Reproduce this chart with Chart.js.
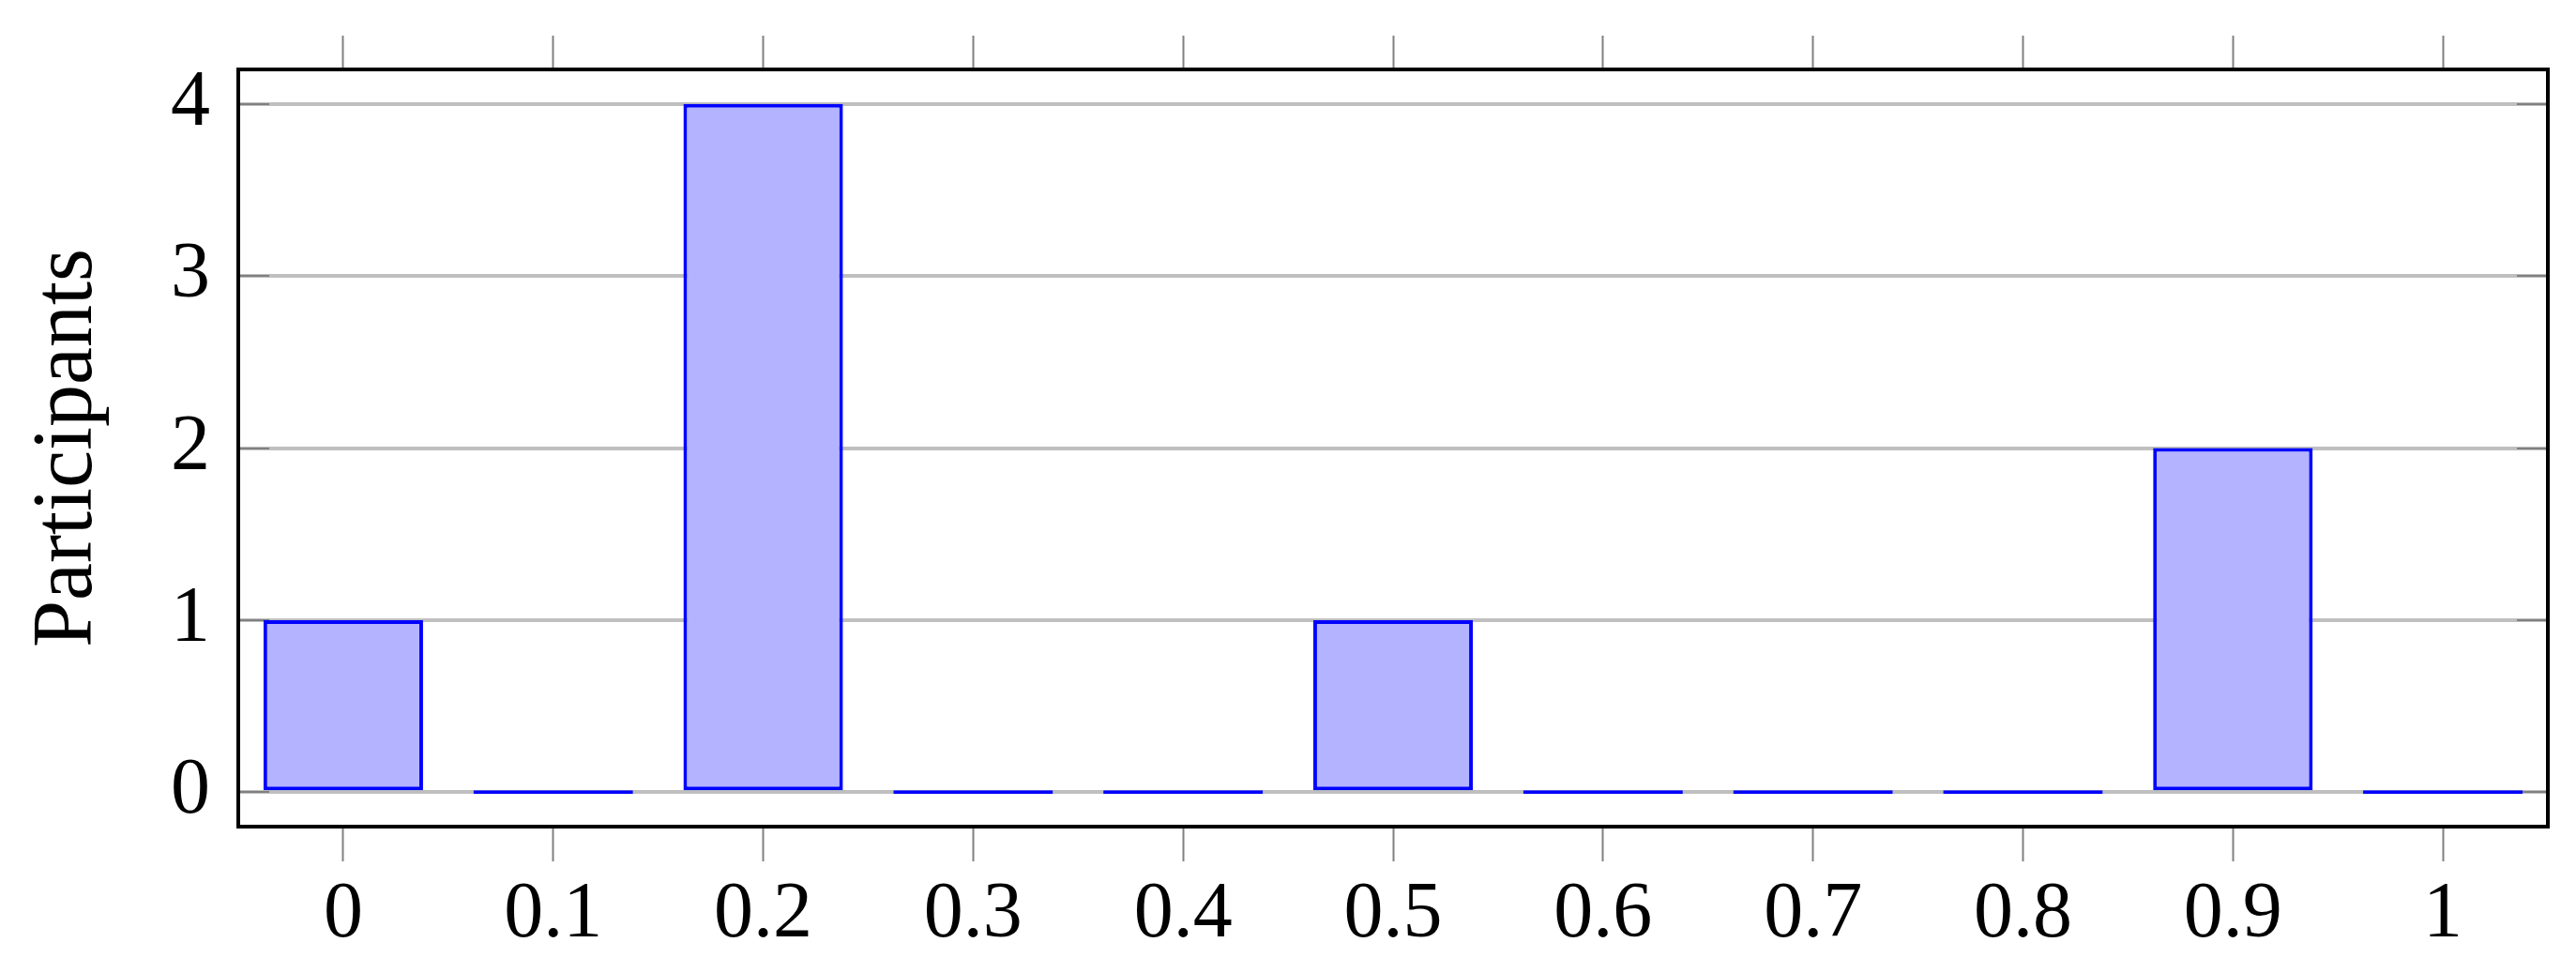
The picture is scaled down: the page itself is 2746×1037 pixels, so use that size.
<html>
<head>
<style>
    body { margin: 0; background: #ffffff; }
</style>
</head>
<body>
<div style="display: block;width: 2746px;height: 1037px;">
    <canvas id="participants_chart" width="2746" height="1037"></canvas>
</div>

<script src="https://cdn.jsdelivr.net/npm/chart.js"></script>

<script>
    var labels = ['0', '0.1', '0.2', '0.3', '0.4', '0.5', '0.6', '0.7', '0.8', '0.9', '1'];
    var participants = [1, 0, 4, 0, 0, 1, 0, 0, 0, 2, 0];
    var y_ticks = [0, 1, 2, 3, 4];

    var font_family = '"Liberation Serif", "DejaVu Serif", serif';

    // frame around the plot + the small inner ticks on the y axis
    var framePlugin = {
        id: 'frame',
        beforeDatasetsDraw(chart) {
            let ctx = chart.ctx;
            let area = chart.chartArea;
            let y = chart.scales.y;
            ctx.save();
            ctx.strokeStyle = '#808080';
            ctx.lineWidth = 2;
            y.ticks.forEach(t => {
                let py = Math.round(y.getPixelForValue(t.value));
                ctx.beginPath();
                ctx.moveTo(area.left, py);
                ctx.lineTo(area.left + 33, py);
                ctx.moveTo(area.right - 33, py);
                ctx.lineTo(area.right, py);
                ctx.stroke();
            });
            ctx.restore();
        },
        afterDraw(chart) {
            let ctx = chart.ctx;
            let area = chart.chartArea;
            ctx.save();
            ctx.strokeStyle = '#000000';
            ctx.lineWidth = 4;
            ctx.strokeRect(area.left, area.top, area.right - area.left, area.bottom - area.top);
            ctx.restore();
        }
    };

    var chart = new Chart(document.getElementById('participants_chart'), {
        type: 'bar',
        data: {
            labels: labels,
            datasets: [
                {
                    label: 'Participants',
                    data: participants,
                    backgroundColor: '#b3b3ff',
                    borderColor: '#0000ff',
                    borderWidth: 4,
                    borderSkipped: false,
                    minBarLength: 4,
                    categoryPercentage: 1.0,
                    barPercentage: 0.76,
                },
            ]
        },
        options: {
            responsive: false,
            animation: false,
            devicePixelRatio: 1,
            layout: {
                autoPadding: false,
                padding: { left: 0, right: 30, top: 0, bottom: 0 }
            },
            plugins: {
                legend: { display: false },
                tooltip: { enabled: false },
            },
            scales: {
                x: {
                    type: 'category',
                    position: 'bottom',
                    offset: true,
                    grid: {
                        offset: false,
                        drawOnChartArea: false,
                        drawTicks: true,
                        tickLength: 37,
                        tickWidth: 2,
                        tickColor: '#808080',
                    },
                    border: { display: false },
                    ticks: {
                        color: '#000000',
                        font: { family: font_family, size: 84 },
                        padding: 8,
                        maxRotation: 0,
                        autoSkip: false,
                    },
                    afterFit: (scale) => {
                        scale.height = 156;
                        scale.paddingLeft = 0;
                        scale.paddingRight = 0;
                    },
                },
                x2: {
                    type: 'category',
                    position: 'top',
                    display: true,
                    offset: true,
                    grid: {
                        offset: false,
                        drawOnChartArea: false,
                        drawTicks: true,
                        tickLength: 36,
                        tickWidth: 2,
                        tickColor: '#808080',
                    },
                    border: { display: false },
                    ticks: { display: false },
                    afterFit: (scale) => { scale.height = 74; },
                },
                y: {
                    min: -0.2,
                    max: 4.2,
                    grid: {
                        color: '#bfbfbf',
                        lineWidth: 4,
                        drawTicks: false,
                    },
                    border: { display: false },
                    afterBuildTicks: (scale) => {
                        scale.ticks = y_ticks.map(v => ({ value: v }));
                    },
                    ticks: {
                        color: '#000000',
                        font: { family: font_family, size: 84 },
                        padding: 30,
                    },
                    title: {
                        display: true,
                        text: 'Participants',
                        color: '#000000',
                        font: { family: font_family, size: 90 },
                        padding: { top: 19, bottom: 0 },
                    },
                    afterFit: (scale) => {
                        scale.width = 254;
                        scale.paddingTop = 0;
                        scale.paddingBottom = 0;
                    },
                },
            }
        },
        plugins: [framePlugin]
    });
</script>
</body>
</html>
